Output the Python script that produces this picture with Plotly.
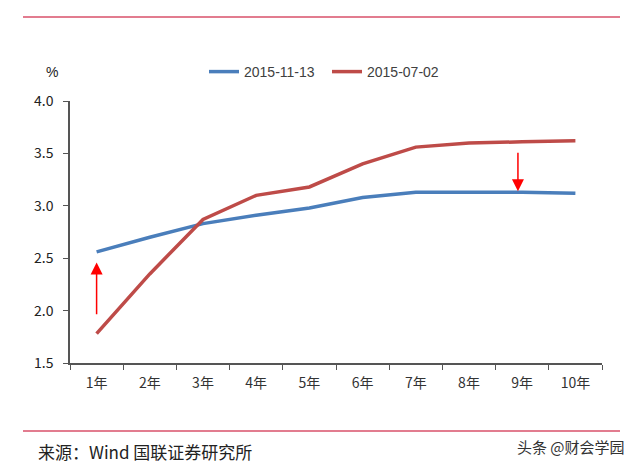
import plotly.graph_objects as go

categories = ["1年", "2年", "3年", "4年", "5年", "6年", "7年", "8年", "9年", "10年"]
series_1113 = [2.56, 2.70, 2.83, 2.91, 2.98, 3.08, 3.13, 3.13, 3.13, 3.12]
series_0702 = [1.78, 2.35, 2.87, 3.10, 3.18, 3.40, 3.56, 3.60, 3.61, 3.62]
name_1113 = "2015-11-13"
name_0702 = "2015-07-02"

# the page body has an 8px margin; work in window pixels and shift
OFF = 8
W, H = 640 - OFF, 468 - OFF
L, R, T, B = 70 - OFF, 602 - OFF, 101 - OFF, 363 - OFF


def px(x):
    return (x - OFF - L) / (R - L)


def py(y):
    return (B - (y - OFF)) / (B - T)


font_cjk = "Noto Sans CJK SC, Liberation Sans, sans-serif"

fig = go.Figure()
fig.add_trace(go.Scatter(x=categories, y=series_1113, mode="lines", name=name_1113,
                         line=dict(color="#4A7EBB", width=3.5)))
fig.add_trace(go.Scatter(x=categories, y=series_0702, mode="lines", name=name_0702,
                         line=dict(color="#BE4B48", width=3.5)))

fig.update_layout(
    width=W, height=H,
    margin=dict(l=L, r=W - R, t=T, b=H - B, pad=0),
    paper_bgcolor="white", plot_bgcolor="white",
    font=dict(family=font_cjk, size=13, color="#333333"),
    showlegend=True,
    legend=dict(orientation="h", x=px(204), xanchor="left", y=py(56), yanchor="top",
                font=dict(size=14, color="#404040", family="Liberation Sans Narrow, Liberation Sans, sans-serif"),
                itemwidth=30, entrywidth=78, tracegroupgap=0, bgcolor="rgba(0,0,0,0)"),
    xaxis=dict(type="category", tickson="boundaries", ticks="outside", ticklen=5,
               tickcolor="#555555", showline=True, linecolor="#555555", linewidth=1.5,
               showgrid=False, zeroline=False, tickfont=dict(size=14, color="#333333"),
               ticklabelstandoff=6, range=[-0.5, 9.5]),
    yaxis=dict(range=[1.5, 4.0], dtick=0.5, tickformat=".1f", ticks="outside", ticklen=5,
               tickcolor="#555555", showline=True, linecolor="#555555", linewidth=1.5,
               showgrid=False, zeroline=False, tickfont=dict(size=14, color="#222222"),
               ticklabelstandoff=7),
)

# red arrows
fig.add_annotation(x=0, y=2.46, ax=0, ay=1.95, xref="x", yref="y", axref="x", ayref="y",
                   showarrow=True, arrowhead=2, arrowsize=1.6, arrowwidth=1.5,
                   arrowcolor="#FF0000", text="")
fig.add_annotation(x=7.92, y=3.14, ax=7.92, ay=3.52, xref="x", yref="y", axref="x", ayref="y",
                   showarrow=True, arrowhead=2, arrowsize=1.6, arrowwidth=1.5,
                   arrowcolor="#FF0000", text="")

# "%" unit label
fig.add_annotation(x=px(52), y=py(72), xref="paper", yref="paper", text="%",
                   showarrow=False, font=dict(size=14, color="#222222", family="Liberation Sans"),
                   xanchor="center", yanchor="middle")

# horizontal rules
fig.add_shape(type="line", xref="paper", yref="paper", x0=px(23), x1=px(620), y0=py(17), y1=py(17),
              line=dict(color="#D9506A", width=1.5))
fig.add_shape(type="line", xref="paper", yref="paper", x0=px(23), x1=px(620), y0=py(431), y1=py(431),
              line=dict(color="#D9506A", width=1.5))

# source & watermark
fig.add_annotation(x=px(36), y=py(451), xref="paper", yref="paper", text="来源：Wind 国联证券研究所",
                   showarrow=False, xanchor="left", yanchor="middle",
                   font=dict(size=17, color="#222222", family=font_cjk))
fig.add_annotation(x=px(627), y=py(447), xref="paper", yref="paper", text="头条 @财会学园",
                   showarrow=False, xanchor="right", yanchor="middle",
                   font=dict(size=15, color="#333333", family=font_cjk))

fig.write_html("out.html")
